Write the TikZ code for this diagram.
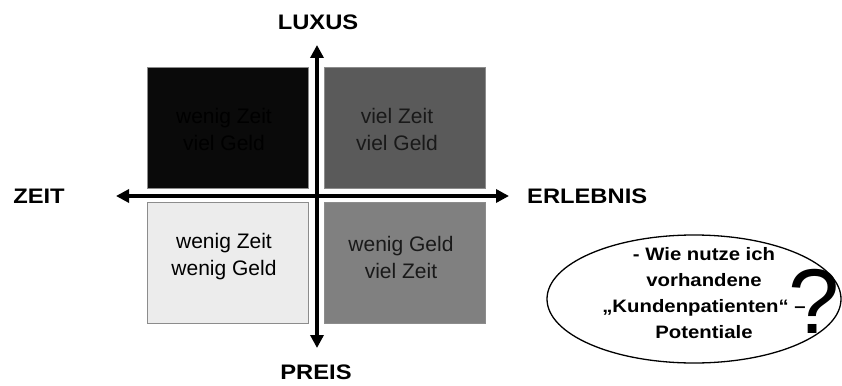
\documentclass[tikz,border=0pt]{standalone}
\usepackage{fontspec}
\setmainfont{Liberation Sans}
\newfontfamily\widebold[FakeStretch=1.13]{Liberation Sans Bold}
\usetikzlibrary{arrows.meta,shapes.geometric}
\definecolor{qone}{HTML}{0A0A0A}
\definecolor{qtwo}{HTML}{5A5A5A}
\definecolor{qthree}{HTML}{ECECEC}
\definecolor{qfour}{HTML}{808080}
\definecolor{edgegray}{HTML}{8C8C8C}
\tikzset{
  quad/.style={draw=edgegray, line width=0.8pt, minimum width=161pt, minimum height=121pt, inner sep=0pt},
  quadtext/.style={align=center, inner sep=0pt, font=\fontsize{21}{27}\selectfont},
  axislabel/.style={font=\widebold\fontsize{21}{24}\selectfont, inner sep=0pt},
  axis/.style={line width=3.5pt, {Triangle[length=13pt,width=13pt]}-{Triangle[length=13pt,width=13pt]}},
}
\begin{document}
\begin{tikzpicture}[x=1pt,y=-1pt]
\useasboundingbox (0,0) rectangle (842,385);
\node[quad, fill=qone] (tl) at (228,127.5) {};
\node[quad, fill=qtwo] (tr) at (404.5,127.5) {};
\node[quad, fill=qthree] (bl) at (228,263) {};
\node[quad, fill=qfour] (br) at (404.5,263) {};
\node[quadtext, text=black] (tlt) at (224,129) {wenig Zeit\\viel Geld};
\node[quadtext, text=black!90] (trt) at (397,129) {viel Zeit\\viel Geld};
\node[quadtext, text=black] (blt) at (224,257) {wenig Zeit\\wenig Geld};
\node[quadtext, text=black!90] (brt) at (401,257) {wenig Geld\\viel Zeit};
\coordinate (left) at (116,196);
\coordinate (right) at (509,196);
\coordinate (top) at (317,45);
\coordinate (bottom) at (317,348);
\draw[axis] (left) -- (right);
\draw[axis] (bottom) -- (top);
\node[axislabel] (luxus) at (318,22) {LUXUS};
\node[axislabel] (preis) at (316,372) {PREIS};
\node[axislabel] (zeit) at (39,196) {ZEIT};
\node[axislabel, anchor=west] (erlebnis) at (527,196) {ERLEBNIS};
\node[draw, line width=1.3pt, ellipse, minimum width=294pt, minimum height=128pt] (ell) at (694,299) {};
\node[align=center, font=\widebold\fontsize{18}{26}\selectfont, inner sep=0pt] (q) at (704,293) {- Wie nutze ich\\vorhandene\\„Kundenpatienten“ –\\Potentiale};
\node[font=\fontsize{92}{92}\selectfont, inner sep=0pt] (qm) at (814.5,301) {?};
\end{tikzpicture}
\end{document}
